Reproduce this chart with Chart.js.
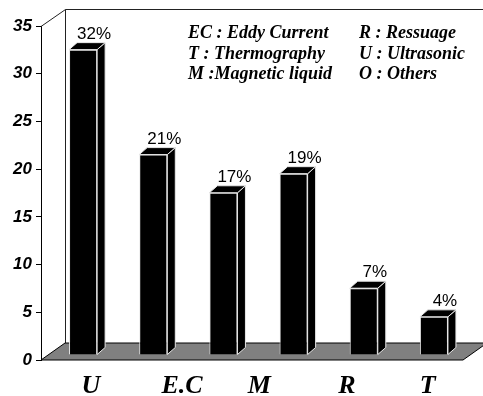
<!DOCTYPE html>
<html>
<head>
<meta charset="utf-8">
<script src="https://cdn.jsdelivr.net/npm/chart.js@4.4.0/dist/chart.umd.min.js"></script>
<style>
  html, body { margin: 0; padding: 0; background: #fff; }
  #wrap { width: 483px; height: 396px; }
</style>
</head>
<body>
<div id="wrap"><canvas id="c"></canvas></div>
<script>
// Share of each inspection method (%)
const categories = ['U', 'E.C', 'M', 'O', 'R', 'T'];
const values = [32, 21, 17, 19, 7, 4];
const valueLabels = ['32%', '21%', '17%', '19%', '7%', '4%'];
const yTicks = [0, 5, 10, 15, 20, 25, 30, 35];
// Method letters under the floor, placed on a fractional category slot
const axisLabels = ['U', 'E.C', 'M', 'R', 'T'];
const axisLabelSlots = [0.21, 1.51, 2.61, 3.86, 5.01];
const legendLeft = ['EC : Eddy Current', 'T : Thermography', 'M :Magnetic liquid'];
const legendRight = ['R : Ressuage', 'U : Ultrasonic', 'O : Others'];

// pseudo-3D geometry
const DEPTH = { x: 24, y: -17 };     // floor / back wall depth
const BAR_SHIFT = { x: 7, y: -5 };   // bars stand part-way into the floor
const BAR_DEPTH = { x: 8, y: -7 };   // thickness of each bar

const SANS = "'Liberation Sans', Arial, Helvetica, sans-serif";
const SERIF = "'Liberation Serif', 'Times New Roman', Times, serif";

const scene3d = {
  id: 'scene3d',
  beforeDatasetsDraw(chart) {
    const { ctx, chartArea: a } = chart;
    const W = chart.width;
    ctx.save();
    // back wall outline
    ctx.strokeStyle = '#222';
    ctx.lineWidth = 1;
    const wx = a.left + DEPTH.x, wy = a.top + DEPTH.y;
    ctx.beginPath();
    ctx.moveTo(a.left, a.top + 0.5);
    ctx.lineTo(wx + 0.5, wy + 0.5);
    ctx.lineTo(W, wy + 0.5);
    ctx.moveTo(wx + 0.5, wy + 0.5);
    ctx.lineTo(wx + 0.5, a.bottom + DEPTH.y);
    ctx.stroke();
    // floor
    ctx.beginPath();
    ctx.moveTo(a.left, a.bottom);
    ctx.lineTo(a.right + 1, a.bottom);
    ctx.lineTo(a.right + 1 + DEPTH.x, a.bottom + DEPTH.y);
    ctx.lineTo(a.left + DEPTH.x, a.bottom + DEPTH.y);
    ctx.closePath();
    ctx.fillStyle = '#808080';
    ctx.fill();
    ctx.strokeStyle = '#000';
    ctx.stroke();

    // bar side and top faces, then shift for the front faces
    ctx.translate(BAR_SHIFT.x, BAR_SHIFT.y);
    const meta = chart.getDatasetMeta(0);
    ctx.fillStyle = '#000';
    ctx.strokeStyle = '#e8e8e8';
    ctx.lineWidth = 1;
    meta.data.forEach(el => {
      const p = el.getProps(['x', 'y', 'base', 'width'], true);
      const l = p.x - p.width / 2, r = p.x + p.width / 2;
      const t = p.y, b = p.base;
      ctx.beginPath();
      ctx.moveTo(r, t);
      ctx.lineTo(r + BAR_DEPTH.x, t + BAR_DEPTH.y);
      ctx.lineTo(r + BAR_DEPTH.x, b + BAR_DEPTH.y);
      ctx.lineTo(r, b);
      ctx.closePath();
      ctx.fill(); ctx.stroke();
      ctx.beginPath();
      ctx.moveTo(l, t);
      ctx.lineTo(l + BAR_DEPTH.x, t + BAR_DEPTH.y);
      ctx.lineTo(r + BAR_DEPTH.x, t + BAR_DEPTH.y);
      ctx.lineTo(r, t);
      ctx.closePath();
      ctx.fill(); ctx.stroke();
    });
  },
  afterDatasetsDraw(chart) {
    const { ctx } = chart;
    ctx.restore();
    // value labels above each bar
    ctx.save();
    ctx.font = '17px ' + SANS;
    ctx.fillStyle = '#000';
    ctx.textAlign = 'center';
    ctx.textBaseline = 'alphabetic';
    const meta = chart.getDatasetMeta(0);
    meta.data.forEach((el, i) => {
      const p = el.getProps(['x', 'y'], true);
      ctx.fillText(valueLabels[i], p.x + BAR_SHIFT.x + 11, p.y + BAR_SHIFT.y - 11);
    });
    ctx.restore();
  },
  afterDraw(chart) {
    const { ctx } = chart;
    ctx.save();
    ctx.font = 'italic bold 18px ' + SERIF;
    ctx.fillStyle = '#000';
    ctx.textBaseline = 'alphabetic';
    ctx.textAlign = 'left';
    legendLeft.forEach((s, i) => ctx.fillText(s, 188, 38 + i * 20.5));
    legendRight.forEach((s, i) => ctx.fillText(s, 359, 38 + i * 20.5));
    ctx.restore();
  }
};

new Chart(document.getElementById('c'), {
  type: 'bar',
  data: {
    labels: categories,
    datasets: [{
      data: values,
      backgroundColor: '#000',
      borderColor: '#e8e8e8',
      borderWidth: 1,
      barPercentage: 0.4,
      categoryPercentage: 1.0
    }]
  },
  options: {
    responsive: true,
    maintainAspectRatio: false,
    animation: false,
    events: [],
    layout: { padding: { top: 26, right: 21, left: 0, bottom: 0 } },
    plugins: { legend: { display: false }, tooltip: { enabled: false } },
    scales: {
      x: { display: false },
      x2: {
        type: 'linear',
        position: 'bottom',
        offset: false,
        bounds: 'data',
        min: -0.5,
        max: categories.length - 0.5,
        grid: { display: false, offset: false },
        border: { display: false },
        afterBuildTicks: axis => { axis.ticks = axisLabelSlots.map(v => ({ value: v })); },
        afterFit: s => { s.height = 36; },
        ticks: {
          autoSkip: false,
          maxRotation: 0,
          padding: 3,
          color: '#000',
          font: { family: SERIF, size: 26, style: 'italic', weight: 'bold' },
          callback: (v, i) => axisLabels[i]
        }
      },
      y: {
        min: 0,
        max: 35,
        afterBuildTicks: axis => { axis.ticks = yTicks.map(v => ({ value: v })); },
        afterFit: s => { s.width = 41; },
        grid: { drawOnChartArea: false, drawTicks: true, tickLength: 5, color: '#000' },
        border: { display: true, color: '#000', width: 1 },
        ticks: {
          padding: 4,
          color: '#000',
          font: { family: SANS, size: 17, style: 'italic', weight: 'bold' }
        }
      }
    }
  },
  plugins: [scene3d]
});
</script>
</body>
</html>
